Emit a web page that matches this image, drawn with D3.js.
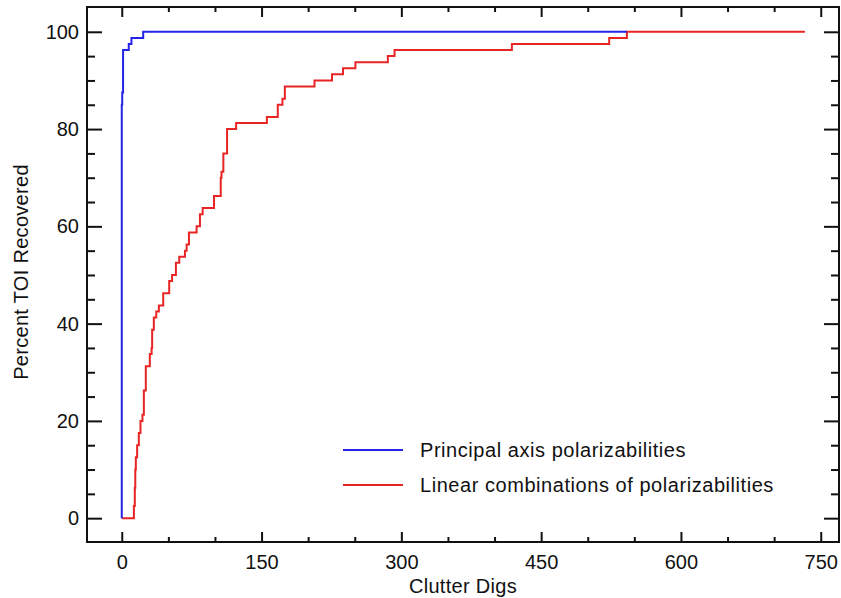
<!DOCTYPE html>
<html>
<head>
<meta charset="utf-8">
<script src="https://cdn.jsdelivr.net/npm/d3@7"></script>
<style>
  html, body { margin: 0; padding: 0; background: #fff; }
  svg { display: block; }
  text { font-family: "Liberation Sans", Arial, Helvetica, sans-serif; fill: #111; }
</style>
</head>
<body>
<svg id="chart" width="841" height="598"></svg>
<script>
// ---- Data ----
const seriesNames = ["Principal axis polarizabilities", "Linear combinations of polarizabilities"];
const seriesColors = ["#2424e8", "#e82424"];

// Principal axis polarizabilities: clutter digs vs percent TOI recovered (step curve)
const blueX = [0, 0, 0.5, 1.4, 7.5, 10.4, 23, 542];
const blueY = [0, 85, 87.5, 96.25, 97.5, 98.75, 100, 100];

// Linear combinations of polarizabilities
const redX = [0, 13, 14, 14.5, 15.1, 16.5, 18.3, 20.1, 22.2, 23.7, 25.8, 30.1, 32, 32.6, 34.4, 37,
              39.8, 44.5, 50.9, 54, 58.1, 61.7, 67.8, 69.6, 72.1, 80.3, 83.9, 86.8, 99, 106.2, 107,
              109, 113, 122.7, 155.7, 167.4, 172.4, 175, 206.8, 225.6, 237.4, 250.7, 285.5, 292.7,
              418.6, 523, 542, 733];
const redY = [0, 2.5, 6.25, 10, 12.5, 15, 17.5, 20, 21.25, 26.25, 31.25, 33.75, 35, 38.75, 41.25, 42.5,
              43.75, 46.25, 48.75, 50, 52.5, 53.75, 55, 56.25, 58.75, 60, 62.5, 63.75, 66.25, 70, 71.25,
              75, 80, 81.25, 82.5, 85, 86.25, 88.75, 90, 91.25, 92.5, 93.75, 95, 96.25,
              97.5, 98.75, 100, 100];

const xMajorTicks = [0, 150, 300, 450, 600, 750];
const xMinorTicks = [50, 100, 200, 250, 350, 400, 500, 550, 650, 700];
const yMajorTicks = [0, 20, 40, 60, 80, 100];
const yMinorTicks = [5, 10, 15, 25, 30, 35, 45, 50, 55, 65, 70, 75, 85, 90, 95];

const xTitle = "Clutter Digs";
const yTitle = "Percent TOI Recovered";

// ---- Layout ----
const L = 87, R = 839, T = 7, B = 542;
const x = d3.scaleLinear().domain([-37.3, 769.6]).range([L, R]);
const y = d3.scaleLinear().domain([-4.9, 105.1]).range([B, T]);

const svg = d3.select("#chart");
const FONT = 20;

// Curves
const line = d3.line().x(d => x(d[0])).y(d => y(d[1])).curve(d3.curveStepAfter);
const blueData = blueX.map((v, i) => [v, blueY[i]]);
const redData = redX.map((v, i) => [v, redY[i]]);

svg.append("path").datum(redData)
  .attr("d", line).attr("fill", "none")
  .attr("stroke", seriesColors[1]).attr("stroke-width", 2);
svg.append("path").datum(blueData)
  .attr("d", line).attr("fill", "none")
  .attr("stroke", seriesColors[0]).attr("stroke-width", 2);

// Axes
function styleAxis(g) {
  g.select(".domain").remove();
  g.selectAll(".tick line").attr("stroke", "#111").attr("stroke-width", 2);
  g.selectAll(".tick text").attr("font-size", FONT).attr("fill", "#111")
    .style("font-family", '"Liberation Sans", Arial, sans-serif');
}

// bottom
svg.append("g").attr("transform", `translate(0,${B})`)
  .call(d3.axisBottom(x).tickValues(xMajorTicks).tickSizeInner(-10).tickSizeOuter(0).tickPadding(13).tickFormat(d3.format("d")))
  .call(styleAxis);
svg.append("g").attr("transform", `translate(0,${B})`)
  .call(d3.axisBottom(x).tickValues(xMinorTicks).tickSizeInner(-5).tickSizeOuter(0).tickFormat(""))
  .call(styleAxis);
// top
svg.append("g").attr("transform", `translate(0,${T})`)
  .call(d3.axisTop(x).tickValues(xMajorTicks).tickSizeInner(-10).tickSizeOuter(0).tickFormat(""))
  .call(styleAxis);
svg.append("g").attr("transform", `translate(0,${T})`)
  .call(d3.axisTop(x).tickValues(xMinorTicks).tickSizeInner(-5).tickSizeOuter(0).tickFormat(""))
  .call(styleAxis);
// left
svg.append("g").attr("transform", `translate(${L},0)`)
  .call(d3.axisLeft(y).tickValues(yMajorTicks).tickSizeInner(-15).tickSizeOuter(0).tickPadding(8).tickFormat(d3.format("d")))
  .call(styleAxis);
svg.append("g").attr("transform", `translate(${L},0)`)
  .call(d3.axisLeft(y).tickValues(yMinorTicks).tickSizeInner(-8).tickSizeOuter(0).tickFormat(""))
  .call(styleAxis);
// right
svg.append("g").attr("transform", `translate(${R},0)`)
  .call(d3.axisRight(y).tickValues(yMajorTicks).tickSizeInner(-15).tickSizeOuter(0).tickFormat(""))
  .call(styleAxis);
svg.append("g").attr("transform", `translate(${R},0)`)
  .call(d3.axisRight(y).tickValues(yMinorTicks).tickSizeInner(-8).tickSizeOuter(0).tickFormat(""))
  .call(styleAxis);

// Frame
svg.append("rect").attr("x", L).attr("y", T).attr("width", R - L).attr("height", B - T)
  .attr("fill", "none").attr("stroke", "#111").attr("stroke-width", 2);

// Titles
svg.append("text").attr("x", 463).attr("y", 593).attr("text-anchor", "middle")
  .attr("font-size", FONT).attr("letter-spacing", "0.3px").text(xTitle);
svg.append("text").attr("transform", "translate(28,272) rotate(-90)").attr("text-anchor", "middle")
  .attr("font-size", FONT).attr("letter-spacing", "0.3px").text(yTitle);

// Legend
const legY = [450, 485];
seriesNames.forEach((name, i) => {
  svg.append("line").attr("x1", 343).attr("x2", 403).attr("y1", legY[i]).attr("y2", legY[i])
    .attr("stroke", seriesColors[i]).attr("stroke-width", 2);
  svg.append("text").attr("x", 420).attr("y", legY[i]).attr("dy", "0.35em")
    .attr("font-size", FONT).attr("letter-spacing", "0.55px").text(name);
});
</script>
</body>
</html>
